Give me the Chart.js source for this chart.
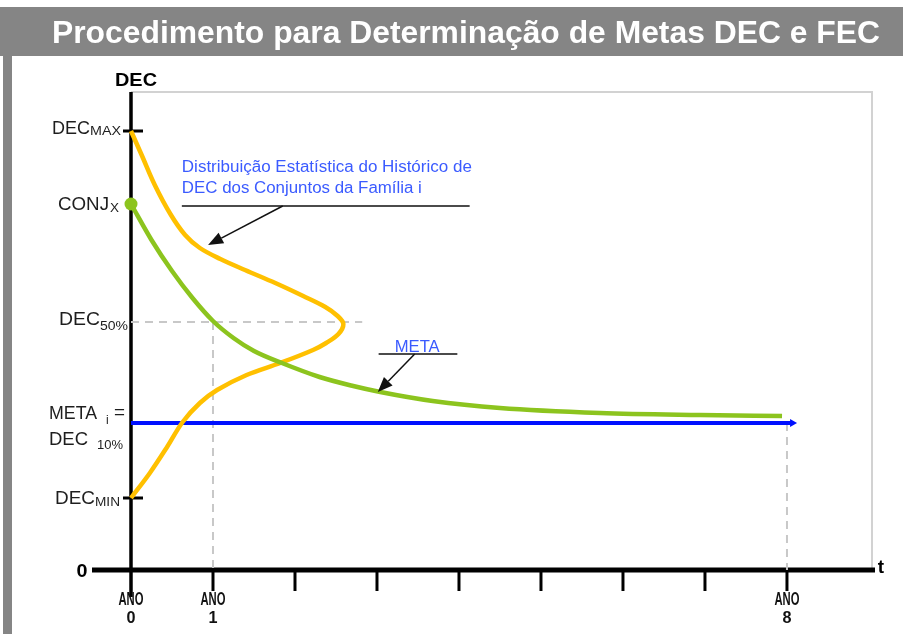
<!DOCTYPE html>
<html>
<head>
<meta charset="utf-8">
<script src="https://cdn.jsdelivr.net/npm/chart.js@4/dist/chart.umd.min.js"></script>
<style>
    html, body { margin: 0; padding: 0; background: #fff; }
    canvas { display: block; }
</style>
</head>
<body>
<canvas id="metasChart" width="903" height="634"></canvas>
<script>
// x = anos, y = DEC (0 na linha do eixo t)
const titulo = 'Procedimento para Determinação de Metas DEC e FEC';
const anos = [0, 1, 2, 3, 4, 5, 6, 7, 8];
const anosRotulados = [0, 1, 8];

const decMax = 43.9;
const conjX = 36.6;
const dec50 = 24.8;
const metaI = 14.7;
const decMin = 7.2;

// curva amarela: distribuição estatística (vai e volta no eixo x)
const distAnos = [0, 0.13, 0.29, 0.48, 0.66, 0.84, 1.09, 1.39, 1.76, 2.10, 2.37, 2.52, 2.59, 2.53, 2.38, 2.22, 1.82, 1.41, 1.05, 0.84, 0.63, 0.44, 0.23, 0];
const distDec = [43.9, 41.5, 38.5, 35.6, 33.5, 32.2, 31.1, 30.0, 28.7, 27.4, 26.3, 25.4, 24.6, 23.6, 22.7, 22.0, 20.7, 19.5, 18.0, 16.7, 14.8, 12.3, 9.7, 7.2];

// curva verde: trajetória do conjunto até a meta
const conjAnos = [0, 0.25, 0.5, 0.75, 1.0, 1.25, 1.5, 1.84, 2.3, 2.71, 3.04, 3.68, 4.5, 5.72, 6.94, 7.94];
const conjDec = [36.6, 33.0, 29.9, 27.2, 24.9, 23.2, 21.9, 20.7, 19.3, 18.4, 17.8, 16.9, 16.2, 15.7, 15.5, 15.4];

const toPts = (xs, ys) => xs.map((v, i) => ({ x: v, y: ys[i] }));

const FONT = '"Liberation Sans", Arial, sans-serif';

function drawText(ctx, s, x, y, font, color, align, w) {
    ctx.save();
    ctx.font = font;
    ctx.fillStyle = color;
    ctx.textAlign = 'left';
    ctx.textBaseline = 'alphabetic';
    const m = ctx.measureText(s).width;
    const sx = w ? w / m : 1;
    let left = x;
    if (align === 'center') left = x - m * sx / 2;
    if (align === 'right') left = x - m * sx;
    ctx.translate(left, y);
    ctx.scale(sx, 1);
    ctx.fillText(s, 0, 0);
    ctx.restore();
}

function arrow(ctx, x1, y1, x2, y2) {
    const a = Math.atan2(y2 - y1, x2 - x1);
    const len = 15, half = 6;
    const bx = x2 - len * Math.cos(a), by = y2 - len * Math.sin(a);
    ctx.save();
    ctx.strokeStyle = '#111';
    ctx.fillStyle = '#111';
    ctx.lineWidth = 1.5;
    ctx.beginPath();
    ctx.moveTo(x1, y1);
    ctx.lineTo(bx, by);
    ctx.stroke();
    ctx.beginPath();
    ctx.moveTo(x2, y2);
    ctx.lineTo(bx + half * Math.sin(a), by - half * Math.cos(a));
    ctx.lineTo(bx - half * Math.sin(a), by + half * Math.cos(a));
    ctx.closePath();
    ctx.fill();
    ctx.restore();
}

const moldura = {
    id: 'moldura',
    beforeDraw(chart) {
        const ctx = chart.ctx;
        const area = chart.chartArea;
        ctx.save();
        ctx.fillStyle = '#fff';
        ctx.fillRect(0, 0, chart.width, chart.height);
        // faixa do titulo e borda esquerda
        ctx.fillStyle = '#858585';
        ctx.fillRect(0, 7, chart.width, 49);
        ctx.fillRect(3, 56, 9, chart.height - 56);
        // caixa cinza clara do grafico
        ctx.strokeStyle = '#d2d2d2';
        ctx.lineWidth = 2;
        ctx.beginPath();
        ctx.moveTo(area.left, area.top);
        ctx.lineTo(area.right, area.top);
        ctx.lineTo(area.right, area.bottom);
        ctx.stroke();
        ctx.restore();
        drawText(ctx, titulo, 466, 43, 'bold 32px ' + FONT, '#fff', 'center', 828);
    },
    beforeDatasetsDraw(chart) {
        const ctx = chart.ctx;
        const xs = chart.scales.x, ys = chart.scales.y;
        const x0 = xs.getPixelForValue(0), y0 = ys.getPixelForValue(0);
        ctx.save();
        ctx.strokeStyle = '#000';
        ctx.lineCap = 'butt';
        // eixo t
        ctx.lineWidth = 5;
        ctx.beginPath();
        ctx.moveTo(92, y0);
        ctx.lineTo(chart.chartArea.right + 3, y0);
        ctx.stroke();
        // eixo DEC
        ctx.lineWidth = 3.5;
        ctx.beginPath();
        ctx.moveTo(x0, chart.chartArea.top);
        ctx.lineTo(x0, y0 + 27);
        ctx.stroke();
        // marcas dos anos
        ctx.lineWidth = 3;
        anos.slice(1).forEach(a => {
            const px = xs.getPixelForValue(a);
            ctx.beginPath();
            ctx.moveTo(px, y0);
            ctx.lineTo(px, y0 + 21);
            ctx.stroke();
        });
        // marcas DECmax / DECmin
        [decMax, decMin].forEach(v => {
            const py = ys.getPixelForValue(v);
            ctx.beginPath();
            ctx.moveTo(x0 - 8, py);
            ctx.lineTo(x0 + 12, py);
            ctx.stroke();
        });
        ctx.restore();
    },
    afterDraw(chart) {
        const ctx = chart.ctx;
        const xs = chart.scales.x, ys = chart.scales.y;
        const X = v => xs.getPixelForValue(v), Y = v => ys.getPixelForValue(v);
        const x0 = X(0), y0 = Y(0);
        const txt = '#1e1e1e';
        const big = '19px ' + FONT, sub = '12px ' + FONT;

        // rotulos do eixo DEC
        drawText(ctx, 'DEC', x0 + 5, chart.chartArea.top - 6, 'bold 18px ' + FONT, '#000', 'center', 42);
        drawText(ctx, 'DEC', 52, Y(decMax) + 3, big, txt, 'left', 38);
        drawText(ctx, 'MAX', 90, Y(decMax) + 4, sub, txt, 'left', 31);
        drawText(ctx, 'CONJ', 58, Y(conjX) + 6, big, txt, 'left', 51);
        drawText(ctx, 'X', 110, Y(conjX) + 8, sub, txt, 'left', 9);
        drawText(ctx, 'DEC', 59, Y(dec50) + 3, big, txt, 'left', 41);
        drawText(ctx, '50%', 100, Y(dec50) + 8, sub, txt, 'left', 28);
        drawText(ctx, 'META', 49, Y(metaI) - 4, big, txt, 'left', 48);
        drawText(ctx, 'i', 106, Y(metaI) + 1, sub, txt, 'left');
        drawText(ctx, '=', 114, Y(metaI) - 5, big, txt, 'left', 11);
        drawText(ctx, 'DEC', 49, Y(metaI) + 22, big, txt, 'left', 39);
        drawText(ctx, '10%', 97, Y(metaI) + 26, sub, txt, 'left', 26);
        drawText(ctx, 'DEC', 55, Y(decMin) + 6, big, txt, 'left', 40);
        drawText(ctx, 'MIN', 95, Y(decMin) + 8, sub, txt, 'left', 25);

        // eixo t
        drawText(ctx, '0', 82, y0 + 7, 'bold 19px ' + FONT, '#000', 'center', 11);
        drawText(ctx, 't', chart.chartArea.right + 9, y0 + 3, 'bold 19px ' + FONT, '#000', 'center');
        anosRotulados.forEach(a => {
            drawText(ctx, 'ANO', X(a), y0 + 35, 'bold 18px ' + FONT, '#111', 'center', 25);
            drawText(ctx, String(a), X(a), y0 + 53, 'bold 17px ' + FONT, '#111', 'center', 9);
        });

        // anotacoes
        const azul = '#3b5bff';
        const f = '16px ' + FONT;
        drawText(ctx, 'Distribuição Estatística do Histórico de', X(0.62), Y(39.8), f, azul, 'left', 290);
        drawText(ctx, 'DEC dos Conjuntos da Família i', X(0.62), Y(37.7), f, azul, 'left', 240);
        drawText(ctx, 'META', X(3.49), Y(21.8), f, azul, 'center', 45);
        ctx.save();
        ctx.strokeStyle = '#111';
        ctx.lineWidth = 1.5;
        ctx.beginPath();
        ctx.moveTo(X(0.62), Y(36.4));
        ctx.lineTo(X(4.13), Y(36.4));
        ctx.moveTo(X(3.02), Y(21.6));
        ctx.lineTo(X(3.98), Y(21.6));
        ctx.stroke();
        ctx.restore();
        arrow(ctx, X(1.85), Y(36.4), X(0.94), Y(32.5));
        arrow(ctx, X(3.46), Y(21.6), X(3.01), Y(17.8));

        // ponta da linha da meta
        const mx = X(8.05), my = Y(metaI);
        ctx.save();
        ctx.fillStyle = '#0010ff';
        ctx.beginPath();
        ctx.moveTo(mx + 6, my);
        ctx.lineTo(mx - 1, my - 4);
        ctx.lineTo(mx - 1, my + 4);
        ctx.closePath();
        ctx.fill();
        ctx.restore();
    }
};

const guia = { borderColor: '#c8c8c8', borderWidth: 2, borderDash: [8, 6], pointRadius: 0, showLine: true, order: 9, clip: false };

new Chart(document.getElementById('metasChart'), {
    type: 'scatter',
    data: {
        datasets: [
            Object.assign({ data: [{ x: 0, y: dec50 }, { x: 2.82, y: dec50 }] }, guia),
            Object.assign({ data: [{ x: 1, y: dec50 }, { x: 1, y: 0 }] }, guia),
            Object.assign({ data: [{ x: 8, y: metaI }, { x: 8, y: 0 }] }, guia),
            {
                data: [{ x: 0, y: metaI }, { x: 8.05, y: metaI }],
                showLine: true, borderColor: '#0010ff', borderWidth: 4, pointRadius: 0, order: 4, clip: false
            },
            {
                data: toPts(distAnos, distDec),
                showLine: true, borderColor: '#ffc000', borderWidth: 4.5, tension: 0.35,
                pointRadius: 0, order: 3, clip: false
            },
            {
                data: toPts(conjAnos, conjDec),
                showLine: true, borderColor: '#8cc41e', borderWidth: 4.5, cubicInterpolationMode: 'monotone',
                pointRadius: 0, order: 2, clip: false
            },
            {
                data: [{ x: 0, y: conjX }],
                pointRadius: 6.5, pointBackgroundColor: '#8cc41e', pointBorderWidth: 0,
                order: 0, clip: false
            }
        ]
    },
    options: {
        responsive: false,
        animation: false,
        events: [],
        layout: { padding: { left: 131, right: 31, top: 92, bottom: 64 } },
        scales: {
            x: { type: 'linear', min: 0, max: 9.037, display: false },
            y: { type: 'linear', min: 0, max: 47.8, display: false }
        },
        plugins: {
            legend: { display: false },
            tooltip: { enabled: false }
        }
    },
    plugins: [moldura]
});
</script>
</body>
</html>
